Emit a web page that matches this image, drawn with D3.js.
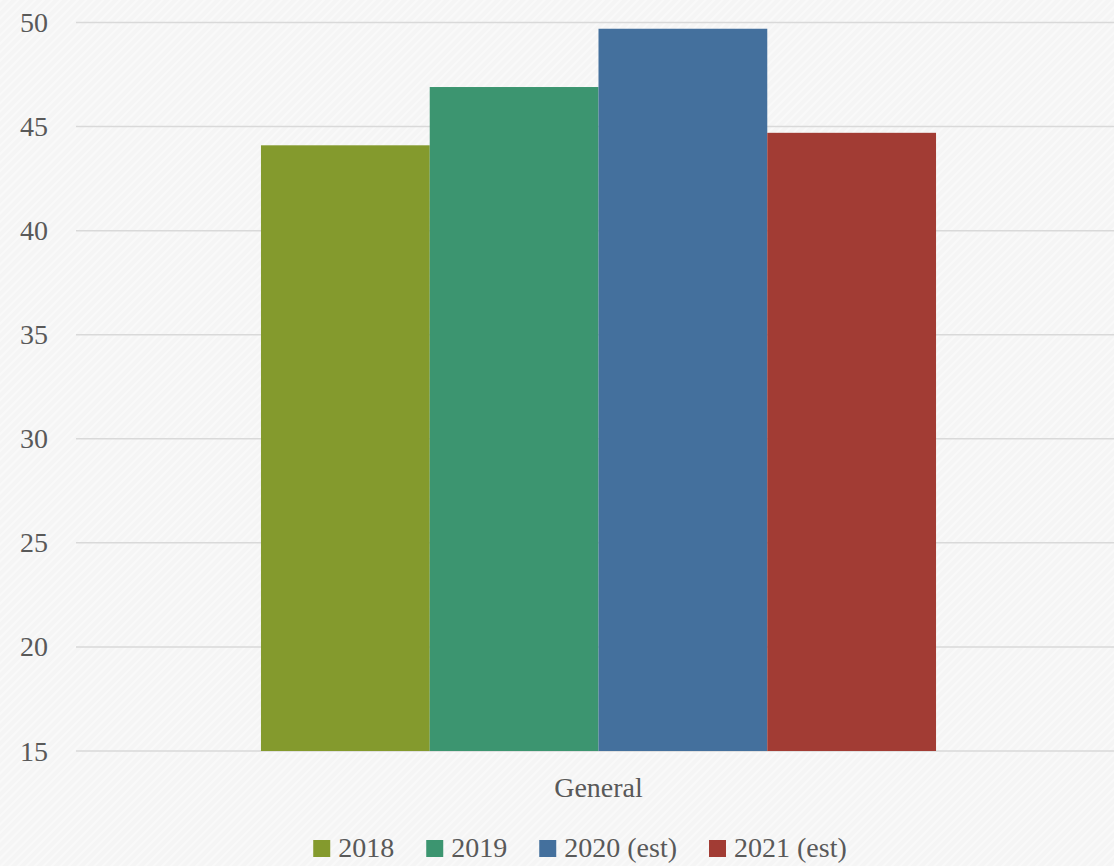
<!DOCTYPE html>
<html><head><meta charset="utf-8">
<script src="https://cdn.jsdelivr.net/npm/d3@7"></script>
<style>html,body{margin:0;padding:0;background:#f5f5f5;}svg{display:block;}
text{font-family:"Liberation Serif","Times New Roman",Times,serif;}</style>
</head><body>
<svg id="chart" width="1114" height="866"></svg>
<script>
const categories = ["General"];
const seriesNames = ["2018", "2019", "2020 (est)", "2021 (est)"];
const seriesValues = [44.1, 46.9, 49.7, 44.7];
const seriesColors = ["#849a2d", "#3c9570", "#44709d", "#a23c34"];
const yTicks = [15, 20, 25, 30, 35, 40, 45, 50];

const svg = d3.select("#chart");
const W = 1114, H = 866;
const textColor = "#595959";

// background with subtle diagonal texture
const defs = svg.append("defs");
const pat = defs.append("pattern").attr("id", "tex").attr("patternUnits", "userSpaceOnUse")
  .attr("width", 6).attr("height", 6).attr("patternTransform", "rotate(45)");
pat.append("rect").attr("width", 6).attr("height", 6).attr("fill", "#f5f5f5");
pat.append("rect").attr("width", 2).attr("height", 6).attr("fill", "#f9f9f9");
svg.append("rect").attr("width", W).attr("height", H).attr("fill", "url(#tex)");

const plot = {left: 76, right: 1121, top: 22.5, bottom: 751};

const y = d3.scaleLinear().domain([15, 50]).range([plot.bottom, plot.top]);
const x0 = d3.scaleBand().domain(categories).range([plot.left, plot.right]).paddingInner(0).paddingOuter(0.274);
const x1 = d3.scaleBand().domain(seriesNames).range([0, x0.bandwidth()]).padding(0);

// gridlines
svg.append("g").selectAll("line").data(yTicks).join("line")
  .attr("x1", plot.left).attr("x2", W)
  .attr("y1", d => y(d)).attr("y2", d => y(d))
  .attr("stroke", "#d9d9d9").attr("stroke-width", 1.5);

// y tick labels
svg.append("g").selectAll("text").data(yTicks).join("text")
  .attr("x", 48).attr("y", d => y(d)).attr("dy", "0.34em")
  .attr("text-anchor", "end").attr("font-size", 28)
  .attr("fill", textColor).text(d => d);

// bars
const g = svg.append("g");
categories.forEach(cat => {
  g.selectAll("rect.bar").data(seriesNames).join("rect").attr("class", "bar")
    .attr("x", d => x0(cat) + x1(d))
    .attr("width", x1.bandwidth())
    .attr("y", (d, i) => y(seriesValues[i]))
    .attr("height", (d, i) => y(15) - y(seriesValues[i]))
    .attr("fill", (d, i) => seriesColors[i]);
});

// category label
svg.append("g").selectAll("text").data(categories).join("text")
  .attr("x", d => x0(d) + x0.bandwidth() / 2).attr("y", 797)
  .attr("text-anchor", "middle").attr("font-size", 28)
  .attr("fill", textColor).text(d => d);

// legend
const lg = svg.append("g");
const items = lg.selectAll("g").data(seriesNames).join("g");
items.append("rect").attr("width", 17).attr("height", 17).attr("y", -17)
  .attr("fill", (d, i) => seriesColors[i]);
items.append("text").attr("x", 25).attr("y", 0)
  .attr("font-size", 28).attr("fill", textColor).text(d => d);
let xpos = 0;
items.each(function() {
  const w = 25 + this.querySelector("text").getComputedTextLength();
  d3.select(this).attr("transform", `translate(${xpos},0)`);
  xpos += w + 32;
});
const total = xpos - 32;
lg.attr("transform", `translate(${580 - total / 2},857)`);
</script>
</body></html>
